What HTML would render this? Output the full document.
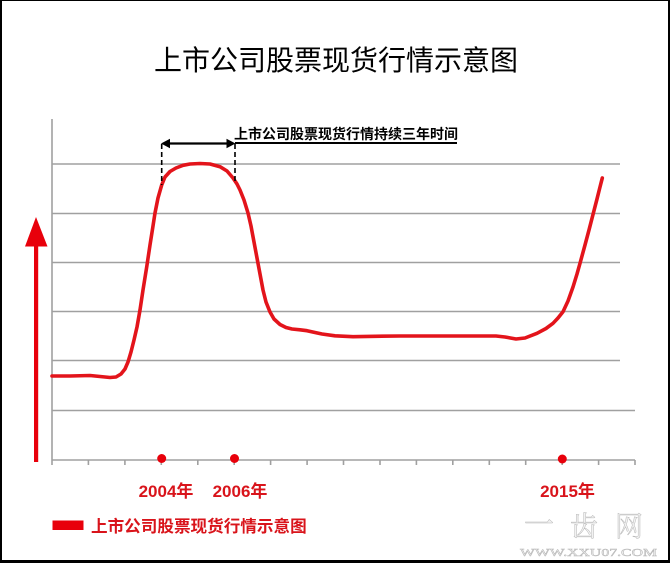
<!DOCTYPE html>
<html><head><meta charset="utf-8"><style>
html,body{margin:0;padding:0;background:#fff;}
svg{display:block;}
</style></head><body>
<svg width="670" height="563" viewBox="0 0 670 563" xmlns="http://www.w3.org/2000/svg">
<rect x="0" y="0" width="670" height="563" fill="#fff"/>
<!-- border -->
<rect x="0" y="0" width="2" height="563" fill="#000"/>
<rect x="668" y="0" width="2" height="563" fill="#000"/>
<rect x="0" y="560" width="670" height="3" fill="#000"/>
<rect x="0" y="0" width="670" height="1" fill="#000"/>

<!-- title -->
<text x="336" y="70" text-anchor="middle" font-family="'Liberation Sans','Noto Sans CJK SC',sans-serif" font-size="28" fill="#000">上市公司股票现货行情示意图</text>

<!-- gridlines -->
<g stroke="#a0a0a0" stroke-width="1.6">
<line x1="52" y1="164" x2="620" y2="164"/>
<line x1="52" y1="213.5" x2="620" y2="213.5"/>
<line x1="52" y1="262.5" x2="620" y2="262.5"/>
<line x1="52" y1="311.5" x2="620" y2="311.5"/>
<line x1="52" y1="360.5" x2="620" y2="360.5"/>
<line x1="52" y1="410.5" x2="635" y2="410.5"/>
<line x1="52" y1="460" x2="635" y2="460"/>
<line x1="52" y1="119" x2="52" y2="465"/>
<line x1="88.4" y1="460" x2="88.4" y2="465"/>
<line x1="124.9" y1="460" x2="124.9" y2="465"/>
<line x1="161.3" y1="460" x2="161.3" y2="465"/>
<line x1="197.8" y1="460" x2="197.8" y2="465"/>
<line x1="234.2" y1="460" x2="234.2" y2="465"/>
<line x1="270.6" y1="460" x2="270.6" y2="465"/>
<line x1="307.1" y1="460" x2="307.1" y2="465"/>
<line x1="343.5" y1="460" x2="343.5" y2="465"/>
<line x1="380" y1="460" x2="380" y2="465"/>
<line x1="416.4" y1="460" x2="416.4" y2="465"/>
<line x1="452.8" y1="460" x2="452.8" y2="465"/>
<line x1="489.3" y1="460" x2="489.3" y2="465"/>
<line x1="525.7" y1="460" x2="525.7" y2="465"/>
<line x1="562.2" y1="460" x2="562.2" y2="465"/>
<line x1="598.6" y1="460" x2="598.6" y2="465"/>
<line x1="635" y1="460" x2="635" y2="465"/>
</g>

<!-- red up arrow -->
<rect x="34" y="244" width="4.2" height="218" fill="#e8000b"/>
<polygon points="36,217 25,246.5 47.5,246.5" fill="#e8000b"/>

<!-- curve -->
<polyline fill="none" stroke="#e3141b" stroke-width="3.6" stroke-linejoin="round" stroke-linecap="round" points="52,376 70,376 90,375.5 100,376.5 110,377.5 116,377 121,374 125,369 128,362 131,352 134,340 137,327 140,310 143,290 146.7,267 150,245 153,226 155,213 158,198 161.7,185 165,177 170,171.5 176,168 183,165.3 190,164 200,163.5 210,164 220,166.7 227,171 233,178 237,184 240,190 244,200 248,213 251,226 254,242 257,258 260,274 263,290 266,302 270,312 274,319 280,324.5 286,327.5 292,329 300,329.8 307,330.7 315,332.5 322,334 335,335.8 353,336.7 375,336.3 400,336 496,336 505,337 516,339 525,338 537,333.3 546,328.5 553,323.3 558,318 563,311.7 568,301 573,287 577,274 580,263.3 585,245 589,230 593.3,213.3 597,199 600,187 602.3,178"/>

<!-- dots -->
<circle cx="161.7" cy="458.5" r="4.5" fill="#e8000b"/>
<circle cx="234.5" cy="458.5" r="4.5" fill="#e8000b"/>
<circle cx="562.3" cy="459" r="4.5" fill="#e8000b"/>

<!-- annotation -->
<g stroke="#000" stroke-width="1.6" stroke-dasharray="5,3" fill="none">
<line x1="161.7" y1="144" x2="161.7" y2="185"/>
<line x1="235" y1="144" x2="235" y2="182"/>
</g>
<line x1="168" y1="143.5" x2="228" y2="143.5" stroke="#000" stroke-width="2.2"/>
<line x1="235" y1="143" x2="457" y2="143" stroke="#000" stroke-width="2"/>
<polygon points="161,143.5 170,138.8 170,148.2" fill="#000"/>
<polygon points="235.5,143.5 226.5,138.8 226.5,148.2" fill="#000"/>
<text x="234" y="139" font-family="'Liberation Sans','Noto Sans CJK SC',sans-serif" font-size="14" font-weight="bold" fill="#000">上市公司股票现货行情持续三年时间</text>

<!-- year labels -->
<g font-family="'Liberation Sans','Noto Sans CJK SC',sans-serif" font-size="17" font-weight="bold" fill="#d9141b" text-anchor="middle">
<text x="166" y="497">2004年</text>
<text x="240" y="497">2006年</text>
<text x="567.5" y="497">2015年</text>
</g>

<!-- legend -->
<rect x="52.5" y="520.5" width="31" height="9.5" fill="#e8000b"/>
<text x="91" y="532" font-family="'Liberation Sans','Noto Sans CJK SC',sans-serif" font-size="16.6" font-weight="bold" fill="#d9141b">上市公司股票现货行情示意图</text>

<!-- watermark -->
<g font-family="'Noto Serif CJK SC','Noto Sans CJK SC',serif" fill="#f2f2f2" stroke="#b8b8b8" stroke-width="0.5">
<text x="524" y="535" font-size="30">一</text>
<text x="570" y="536" font-size="28">齿</text>
<text x="615" y="536" font-size="28">网</text>
</g>
<text x="520" y="556" font-family="'Liberation Serif',serif" font-size="10" fill="#f0f0f0" stroke="#b5b5b5" stroke-width="0.4" textLength="137" lengthAdjust="spacingAndGlyphs">WWW.XXU07.COM</text>
</svg>
</body></html>
